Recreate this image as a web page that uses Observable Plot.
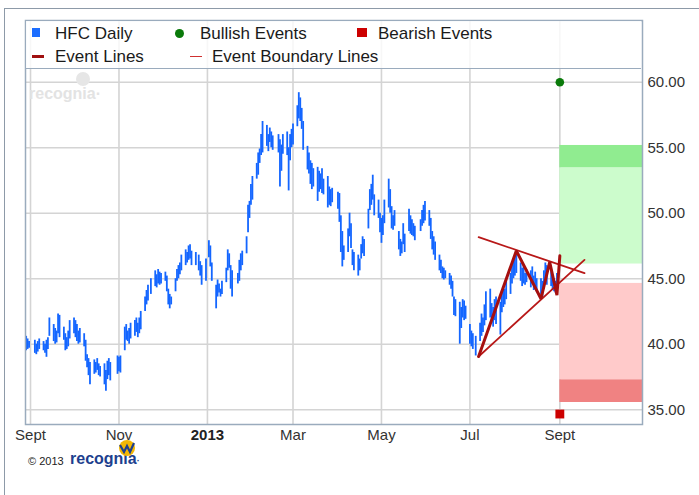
<!DOCTYPE html>
<html><head><meta charset="utf-8">
<script src="https://cdn.jsdelivr.net/npm/d3@7"></script>
<script src="https://cdn.jsdelivr.net/npm/@observablehq/plot@0.6"></script>
<style>
body{margin:0;background:#fff;font-family:"Liberation Sans",Arial,sans-serif;}
#wrap{position:relative;width:699px;height:495px;overflow:hidden;}
#outer{position:absolute;left:4px;top:8px;width:760px;height:560px;border:1px solid #8d9aa8;box-sizing:border-box;}
#chart{position:absolute;left:0;top:0;}
#legend{position:absolute;left:26px;top:21px;width:615px;height:47px;background:rgba(255,255,255,0.8);border-bottom:1.5px solid #9aabbd;}
.lg{position:absolute;font-size:17px;color:#1a1a1a;white-space:nowrap;line-height:17px;}
.sw{position:absolute;}
#wm{position:absolute;left:29px;top:85px;font-size:16px;font-weight:bold;color:#e3e3e3;}
#wmc{position:absolute;left:76px;top:72px;width:14px;height:14px;border-radius:50%;background:#e6e6e6;}
#foot1{position:absolute;left:28px;top:455px;font-size:11px;color:#222;font-family:"Liberation Sans Narrow","Liberation Sans",Arial;}
#foot2{position:absolute;left:70px;top:450px;font-size:16px;font-weight:bold;color:#1d3f8e;}
#logo{position:absolute;left:118px;top:439px;}
</style>
</head><body>
<div id="wrap">
  <div id="outer"></div>
  <div id="chart"></div>
  <div id="wmc"></div><div id="wm">recognia·</div>
  <div id="legend"></div>
  <div class="sw" style="left:32px;top:28px;width:8px;height:9px;background:#1b6dff"></div>
  <div class="lg" style="left:55px;top:25px">HFC Daily</div>
  <div class="sw" style="left:175px;top:29px;width:9px;height:9px;border-radius:50%;background:#0a7a0a"></div>
  <div class="lg" style="left:200px;top:25px">Bullish Events</div>
  <div class="sw" style="left:357px;top:28px;width:10px;height:9px;background:#cc0000"></div>
  <div class="lg" style="left:378px;top:25px">Bearish Events</div>
  <div class="sw" style="left:32px;top:55px;width:12px;height:2.5px;background:#a01010"></div>
  <div class="lg" style="left:55px;top:48px">Event Lines</div>
  <div class="sw" style="left:190px;top:55.5px;width:12px;height:1.5px;background:#d03030"></div>
  <div class="lg" style="left:212px;top:48px">Event Boundary Lines</div>
  <div id="foot1">© 2013</div>
  <div id="foot2">recognia<span style="font-size:9px">·</span></div>
  <svg id="logo" width="18" height="18" viewBox="0 0 18 18"><circle cx="9" cy="9" r="8" fill="#f2b705"/><polyline points="2,6 6,13 9,7 12,13 16,4" fill="none" stroke="#1d3f8e" stroke-width="2.2"/></svg>
</div>
<script>
// ---- data ----
const holidays = ["2012-09-03","2012-10-29","2012-10-30","2012-11-22","2012-12-25","2013-01-01","2013-01-21","2013-02-18","2013-03-29","2013-05-27","2013-07-04"];
const firstDay = "2012-08-29";
const lastDay = "2013-08-30";
const highs = [
 40.6,40.4,40.2,
 40.3,40.0,40.2,40.4,
 40.2,40.0,40.3,40.5,42.0,
 41.5,41.2,41.0,42.3,42.2,
 41.3,40.8,40.5,41.0,41.8,
 42.0,41.8,41.5,41.0,41.2,
 40.8,40.3,39.2,38.9,38.6,
 38.8,38.6,38.9,38.5,38.3,
 38.5,38.0,38.7,38.9,38.6,
 39.1,39.0,39.1,
 41.3,41.5,41.0,41.2,41.6,
 41.8,42.0,41.6,42.0,42.5,
 43.6,44.1,44.5,45.0,
 45.6,45.3,45.7,45.5,45.4,
 45.5,45.2,44.2,43.8,43.6,
 45.0,45.7,46.0,46.2,46.8,
 47.2,47.0,47.5,47.6,47.1,
 47.0,46.8,46.3,46.0,
 46.5,47.9,47.5,46.2,
 44.5,44.9,44.6,44.2,44.8,
 45.8,47.2,46.9,46.0,45.6,
 45.4,46.4,46.9,47.1,
 48.2,50.6,50.9,52.2,52.8,
 53.8,54.6,54.9,56.0,57.0,
 56.7,56.0,56.5,56.2,55.9,
 56.0,55.6,55.2,56.0,
 56.2,55.0,56.0,56.4,56.8,
 58.2,59.2,58.8,58.0,57.0,
 55.1,54.6,54.0,53.8,53.4,
 53.5,53.2,53.0,53.4,52.6,
 52.8,52.0,51.8,51.9,
 51.6,51.5,49.8,48.6,47.5,
 48.8,50.0,49.2,47.2,47.0,
 46.8,46.5,47.6,48.2,48.0,
 50.3,51.8,52.2,52.9,51.4,
 51.0,50.0,49.6,49.8,51.0,
 52.6,51.8,50.5,49.8,50.2,
 48.6,48.0,47.8,49.2,48.4,
 50.3,49.8,49.5,49.2,49.0,
 49.5,50.2,50.6,50.9,
 50.2,49.6,48.6,48.2,47.8,
 46.8,46.4,45.9,45.8,45.6,
 45.4,45.2,44.8,43.6,43.4,
 43.2,42.8,43.4,43.3,42.9,
 41.5,41.0,40.8,40.6,
 41.6,42.3,42.0,43.0,44.0,
 44.2,43.1,42.8,43.4,43.6,
 43.2,44.0,44.4,44.2,45.0,
 45.4,46.0,46.4,46.7,47.0,
 46.2,45.8,46.0,45.4,45.7,
 45.6,45.9,45.2,45.5,45.0,
 45.0,44.8,45.6,46.2,46.0,
 45.6,45.2,45.0,44.8,45.4
];
const lows = [
 39.5,39.6,39.7,
 39.3,39.2,39.4,39.6,
 39.5,39.3,39.0,39.6,40.6,
 40.2,40.0,40.1,40.8,40.5,
 40.3,39.5,39.6,39.8,40.4,
 40.8,40.5,40.2,40.0,40.1,
 39.8,38.7,38.2,37.6,36.9,
 37.7,37.8,38.0,37.6,37.5,
 36.9,36.4,37.3,37.6,37.2,
 37.7,37.9,37.8,
 39.5,40.3,40.2,40.0,40.4,
 40.6,40.9,40.5,40.8,41.1,
 42.5,43.0,43.3,43.8,
 44.4,44.3,44.6,44.5,44.6,
 44.8,44.0,43.0,42.7,43.0,
 44.0,44.8,45.0,45.3,45.6,
 46.0,46.2,46.4,46.5,46.0,
 46.0,45.6,45.2,44.5,
 44.8,46.6,45.9,44.8,
 42.7,43.6,43.9,43.6,43.8,
 44.7,45.6,45.8,44.2,43.6,
 44.6,44.8,45.6,46.0,
 46.9,48.5,49.6,50.6,51.0,
 52.6,52.9,53.8,54.4,54.6,
 55.1,54.7,55.4,55.0,54.8,
 54.6,52.0,53.2,54.5,
 54.4,51.7,54.0,55.0,55.2,
 56.6,57.2,57.0,56.4,54.8,
 53.3,53.0,52.2,51.8,52.0,
 50.9,51.6,51.8,51.5,51.4,
 50.4,50.6,50.5,50.8,
 50.3,49.3,47.0,45.9,46.4,
 47.0,48.2,47.3,46.0,45.6,
 45.2,45.6,46.5,46.9,46.7,
 48.8,50.2,50.6,51.0,49.8,
 49.6,48.5,47.7,48.3,49.2,
 50.4,50.0,48.8,48.7,49.0,
 47.2,46.7,46.9,47.6,47.0,
 48.6,48.4,48.3,48.2,47.9,
 48.6,49.0,49.2,49.4,
 49.0,48.0,47.2,46.8,46.4,
 45.6,45.4,45.0,44.9,45.0,
 44.5,44.2,43.6,42.2,42.1,
 40.0,41.2,42.0,41.8,41.9,
 40.0,39.8,39.6,39.1,
 40.2,40.6,40.9,41.4,41.8,
 42.0,41.6,41.3,41.8,41.5,
 40.7,42.4,42.8,43.0,43.4,
 43.8,44.6,45.0,45.2,45.4,
 44.8,44.4,44.6,44.5,44.7,
 44.3,44.6,44.1,44.4,44.0,
 43.8,43.6,44.2,44.6,44.5,
 44.4,44.1,44.0,43.9,44.3
];
const yTicks = [35, 40, 45, 50, 55, 60];
const xTickDates = ["2012-09-01","2012-11-01","2013-01-01","2013-03-01","2013-05-01","2013-07-01","2013-09-01"];
const xTickLabels = ["Sept","Nov","2013","Mar","May","Jul","Sept"];
const eventDates = ["2013-07-07","2013-08-02","2013-08-19","2013-08-25","2013-08-30","2013-09-01"];
const eventValues = [39.06, 47.13, 43.47, 46.26, 43.75, 46.75];
const upperBoundDates = ["2013-07-07","2013-09-18"];
const upperBoundValues = [48.17, 45.42];
const lowerBoundDates = ["2013-07-07","2013-09-18"];
const lowerBoundValues = [39.06, 46.44];
const zoneStart = "2013-09-01";
const zoneLow = [46.12, 53.47, 37.28, 35.55];
const zoneHigh = [53.47, 55.17, 44.64, 37.28];
const zoneColors = ["#ccfccc", "#90ec90", "#ffcaca", "#f08282"];
const bullishDate = "2013-09-01", bullishValue = 60;
const bearishDate = "2013-09-01", bearishValue = 34.67;

// ---- build ----
const hol = new Set(holidays);
const dates = [];
for (let t = new Date(firstDay).getTime(); t <= new Date(lastDay).getTime(); t += 864e5) {
  const d = new Date(t), wd = d.getUTCDay();
  if (wd === 0 || wd === 6) continue;
  if (hol.has(d.toISOString().slice(0, 10))) continue;
  dates.push(d);
}
const n = Math.min(dates.length, highs.length, lows.length);
const bars = d3.range(n).map(i => ({date: dates[i], high: highs[i], low: lows[i]}));
const P = s => new Date(s);
const eventPts = eventDates.map((d, i) => ({date: P(d), v: eventValues[i]}));
const bounds = [
  ...upperBoundDates.map((d, i) => ({date: P(d), v: upperBoundValues[i], k: "u"})),
  ...lowerBoundDates.map((d, i) => ({date: P(d), v: lowerBoundValues[i], k: "l"}))
];
const xEnd = new Date(Date.UTC(2013, 9, 28));
const zones = zoneLow.map((lo, i) => ({x1: P(zoneStart), x2: xEnd, y1: lo, y2: zoneHigh[i], c: zoneColors[i]}));
const ticks = xTickDates.map((d, i) => ({date: P(d), label: xTickLabels[i]}));

const chart = Plot.plot({
  width: 699, height: 495,
  marginLeft: 25, marginRight: 57, marginTop: 20, marginBottom: 71,
  style: {fontFamily: '"Liberation Sans", Arial, sans-serif', fontSize: "15px", background: "transparent", overflow: "visible"},
  x: {type: "utc", domain: [new Date(Date.UTC(2012, 7, 28, 13)), xEnd], axis: null},
  y: {domain: [33.87, 64.71], axis: null},
  marks: [
    Plot.ruleY(yTicks, {y: d => d, stroke: "#d4d4d4", strokeWidth: 1.6}),
    Plot.ruleX(ticks, {x: "date", stroke: "#d4d4d4", strokeWidth: 1.6}),
    Plot.rect(zones, {x1: "x1", x2: "x2", y1: "y1", y2: "y2", fill: "c"}),
    Plot.ruleX(bars, {x: "date", y1: "low", y2: "high", stroke: "#1466ff", strokeWidth: 1.8}),
    Plot.line(bounds, {x: "date", y: "v", z: "k", stroke: "#b81818", strokeWidth: 1.8}),
    Plot.line(eventPts, {x: "date", y: "v", stroke: "#a50f0f", strokeWidth: 3, strokeLinejoin: "miter"}),
    Plot.dot([{date: P(bullishDate), v: bullishValue}], {x: "date", y: "v", r: 4.3, fill: "#0a7a0a"}),
    Plot.dot([{date: P(bearishDate), v: bearishValue}], {x: "date", y: "v", r: 5, symbol: "square", fill: "#cc0000"}),
    Plot.frame({stroke: "#9aabbd", strokeWidth: 1.5}),
    Plot.text(yTicks, {y: d => d, text: d => d.toFixed(2), frameAnchor: "right", textAnchor: "start", dx: 5, fill: "#333", fontSize: 15}),
    Plot.text(ticks.filter(t => t.label !== "2013"), {x: "date", text: "label", frameAnchor: "bottom", dy: 15, fill: "#333", fontSize: 15}),
    Plot.text(ticks.filter(t => t.label === "2013"), {x: "date", text: "label", frameAnchor: "bottom", dy: 15, fill: "#222", fontSize: 15, fontWeight: "bold"})
  ]
});
document.getElementById("chart").appendChild(chart);
</script>
</body></html>
